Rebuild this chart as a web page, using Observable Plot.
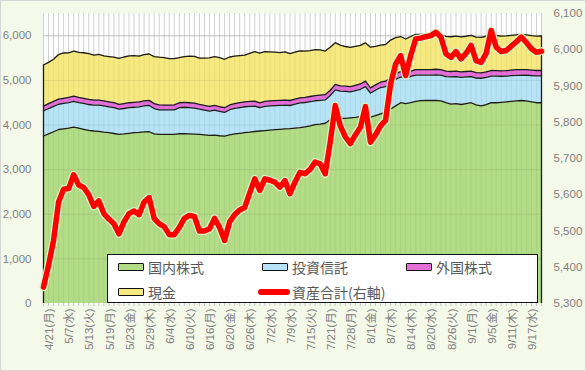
<!DOCTYPE html>
<html><head><meta charset="utf-8">
<script src="https://cdn.jsdelivr.net/npm/d3@7"></script>
<script src="https://cdn.jsdelivr.net/npm/@observablehq/plot@0.6"></script>
<style>
html,body{margin:0;padding:0;background:#fff;}
#wrap{position:relative;width:586px;height:371px;background:#f5f9ea;overflow:hidden;font-family:"Liberation Sans","Noto Sans CJK JP",sans-serif;}
#chart svg{position:absolute;left:0;top:0;}
#border{position:absolute;left:0;top:0;width:586px;height:371px;box-sizing:border-box;border:1px solid #d6d6d6;pointer-events:none;}
#legend{position:absolute;left:107px;top:254px;width:431px;height:49px;box-sizing:border-box;border:1.6px solid #111;background:#fff;}
.item{position:absolute;height:20px;display:flex;align-items:center;font-family:"Noto Sans CJK JP",sans-serif;font-size:14px;color:#595959;white-space:nowrap;}
.sw{width:24px;height:6px;border:1.6px solid #111;border-radius:1px;margin-right:4px;}
.ln{width:32px;height:6px;border-radius:3px;background:#ff0000;margin-right:2px;}
</style>
</head><body>
<div id="wrap"><div id="chart"></div><div id="legend"></div><div id="border"></div></div>
<script>
// ---- data ----
const xLabels = ["4/21(月)","5/7(水)","5/13(火)","5/19(月)","5/23(金)","5/29(木)","6/4(水)","6/10(火)","6/16(月)","6/20(金)","6/26(木)","7/2(水)","7/9(水)","7/15(火)","7/21(月)","7/28(月)","8/1(金)","8/7(木)","8/14(木)","8/20(水)","8/26(火)","9/1(月)","9/5(金)","9/11(木)","9/17(水)"];

const domestic = [3754,3800,3850,3900,3915,3930,3955,3930,3904,3880,
 3866,3860,3840,3828,3810,3792,3800,3815,3828,3835,
 3845,3850,3800,3792,3792,3790,3792,3806,3805,3800,
 3795,3792,3780,3770,3775,3760,3750,3780,3800,3815,
 3828,3840,3855,3866,3875,3885,3895,3904,3915,3920,
 3930,3940,3960,3980,4010,4020,4040,4120,4180,4150,
 4150,4160,4170,4190,4230,4180,4210,4250,4290,4360,
 4430,4500,4480,4500,4530,4545,4550,4550,4555,4540,
 4500,4470,4480,4460,4480,4500,4450,4430,4460,4500,
 4500,4510,4520,4530,4540,4550,4540,4520,4500,4500];

const fund = [563,570,568,566,570,574,575,574,581,580,
 581,587,588,581,580,563,571,575,571,574,
 583,589,570,549,547,549,550,584,594,590,
 585,563,553,544,558,544,533,563,572,576,
 582,579,569,522,544,543,538,535,532,518,
 537,556,545,545,534,534,523,542,609,611,
 604,583,602,611,632,537,572,591,573,579,
 594,577,568,588,590,575,570,570,570,580,
 585,609,605,609,598,584,604,619,608,598,
 597,583,577,576,575,569,576,587,600,600];

const foreign = [108,110,112,114,115,116,118,116,115,114,
 113,113,112,111,110,108,109,110,111,111,
 112,113,110,109,108,108,108,110,111,110,
 110,108,107,106,107,106,105,107,108,109,
 110,111,112,110,111,112,112,113,113,112,
 113,114,115,115,116,116,117,118,120,119,
 118,117,118,119,121,117,118,119,120,121,
 122,123,121,122,124,124,124,124,125,124,
 122,121,122,121,122,123,121,120,122,124,
 123,122,123,124,125,125,124,123,122,122];

const cash = [920,925,944,1000,1015,997,1007,1007,1020,1026,
 1008,1023,1008,1013,1020,1029,1045,1048,1045,1025,
 1040,1040,1055,1070,1065,1043,1040,1010,1025,1043,
 1050,1037,1060,1086,1095,1100,1086,1075,1065,1058,
 1045,1075,1108,1114,1114,1100,1090,1069,1079,1053,
 1055,1052,1038,1030,1030,1015,978,965,937,910,
 888,881,875,866,860,911,865,830,822,845,
 814,784,760,774,786,788,792,795,798,791,
 782,779,788,785,790,805,795,796,800,831,
 787,780,778,780,782,791,780,773,771,774];

const total = [5345,5405,5474,5580,5615,5617,5655,5627,5620,5600,
 5568,5583,5548,5533,5520,5492,5525,5548,5555,5545,
 5580,5592,5535,5520,5512,5490,5490,5510,5535,5543,
 5540,5500,5500,5506,5535,5510,5474,5525,5545,5558,
 5565,5605,5644,5612,5644,5640,5635,5621,5639,5603,
 5635,5662,5658,5670,5690,5685,5658,5745,5846,5790,
 5760,5741,5765,5786,5843,5745,5765,5790,5805,5905,
 5960,5984,5929,5984,6030,6032,6036,6039,6048,6035,
 5989,5979,5995,5975,5990,6012,5970,5965,5990,6053,
 6007,5995,5998,6010,6022,6035,6020,6003,5993,5996];

const seriesNames = ["国内株式","投資信託","外国株式","現金"];
const seriesColors = ["#b3dc87","#b6e3f5","#e46fd8","#f6e97f"];
const totalName = "資産合計(右軸)";
const leftTicks = [0,1000,2000,3000,4000,5000,6000];
const rightTicks = [5300,5400,5500,5600,5700,5800,5900,6000,6100];
const leftMax = 6500, rMin = 5300, rMax = 6100;

// ---- build ----
const N = total.length;
const idx = d3.range(N);
const arrays = [domestic, fund, foreign, cash];
const long = [];
idx.forEach(i => arrays.forEach((a, k) => long.push({i, s: seriesNames[k], v: a[i]})));
const toLeft = v => (v - rMin) / (rMax - rMin) * leftMax;
const fromLeft = y => y / leftMax * (rMax - rMin) + rMin;
const stackTop = i => domestic[i] + fund[i] + foreign[i] + cash[i];
const fmt = d3.format(",");

const chart = Plot.plot({
  width: 586, height: 371,
  marginLeft: 43, marginRight: 45, marginTop: 13, marginBottom: 68,
  style: {background: "transparent", fontFamily: '"Liberation Sans","Noto Sans CJK JP",sans-serif', fontSize: "11.5px", color: "#7f7f7f"},
  x: {domain: [0, N - 1], axis: null},
  y: {domain: [0, leftMax], axis: null},
  color: {domain: seriesNames, range: seriesColors},
  marks: [
    Plot.frame({fill: "#ffffff", stroke: "none"}),
    Plot.ruleX(idx, {x: d => d, stroke: "#dcdcdc", strokeWidth: 1}),
    Plot.ruleY(leftTicks.slice(1), {y: d => d, stroke: "#d0d0d0"}),
    Plot.areaY(long, Plot.stackY({x: "i", y: "v", z: "s", fill: "s", order: seriesNames})),
    Plot.ruleX(idx, {x: d => d, stroke: "#000", strokeOpacity: 0.05}),
    Plot.ruleY(leftTicks.slice(1), {y: d => d, stroke: "#000", strokeOpacity: 0.07}),
    Plot.lineY(long, Plot.stackY2({x: "i", y: "v", z: "s", order: seriesNames, stroke: "#1c1c1c", strokeWidth: 1.3})),
    Plot.ruleX([0, N - 1], {x: d => d, y1: 0, y2: d => stackTop(d), stroke: "#1c1c1c", strokeWidth: 1.3}),
    Plot.lineY(idx, {x: d => d, y: d => toLeft(total[d]), stroke: "#d9f5c4", strokeWidth: 8, strokeLinejoin: "round", strokeLinecap: "round"}),
    Plot.lineY(idx, {x: d => d, y: d => toLeft(total[d]), stroke: "#ff0000", strokeWidth: 5.5, strokeLinejoin: "round", strokeLinecap: "round"}),
    Plot.axisY(leftTicks, {anchor: "left", tickSize: 0, tickPadding: 12, tickFormat: fmt, label: null}),
    Plot.axisY(rightTicks.map(toLeft), {anchor: "right", tickSize: 0, tickPadding: 12, tickFormat: y => fmt(Math.round(fromLeft(y))), label: null}),
    Plot.axisX(idx, {anchor: "bottom", tickSize: 3, tickFormat: () => "", stroke: "#c8c8c8", label: null}),
    Plot.axisX(xLabels.map((_, k) => k * 4), {anchor: "bottom", tickSize: 0, tickPadding: 5, tickRotate: -90, dx: 6, fontSize: 11.5, tickFormat: i => xLabels[i / 4], label: null})
  ]
});
document.getElementById("chart").appendChild(chart);

// ---- legend ----
const leg = document.getElementById("legend");
const slots = [[10, 2], [154, 2], [298, 2], [10, 27]];
seriesNames.forEach((name, k) => {
  const it = document.createElement("div");
  it.className = "item";
  it.style.left = slots[k][0] + "px"; it.style.top = slots[k][1] + "px";
  it.innerHTML = `<span class="sw" style="background:${seriesColors[k]}"></span>${name}`;
  leg.appendChild(it);
});
const tl = document.createElement("div");
tl.className = "item"; tl.style.left = "150px"; tl.style.top = "27px";
tl.innerHTML = `<span class="ln"></span>${totalName}`;
leg.appendChild(tl);
</script>
</body></html>
